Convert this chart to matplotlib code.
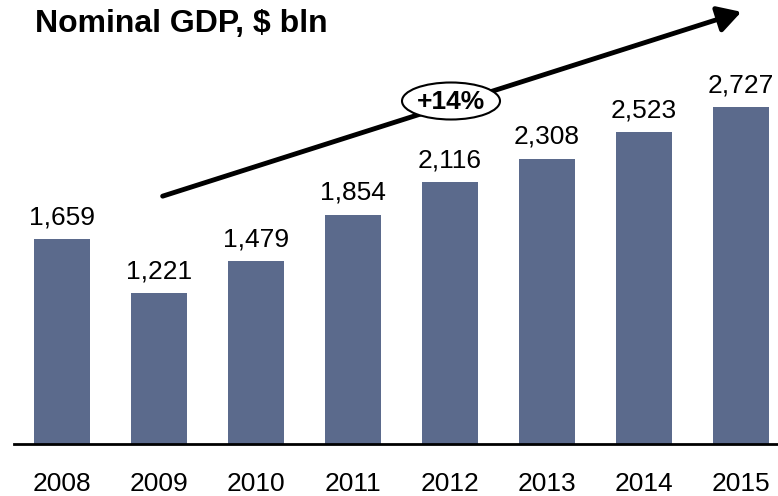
import matplotlib
matplotlib.use("Agg")
import matplotlib.pyplot as plt
from matplotlib.patches import Ellipse

years = ["2008", "2009", "2010", "2011", "2012", "2013", "2014", "2015"]
gdp = [1659, 1221, 1479, 1854, 2116, 2308, 2523, 2727]
growth_label = "+14%"
title = "Nominal GDP, $ bln"

plt.rcParams['font.family'] = ['Liberation Sans', 'DejaVu Sans']

W, H = 778, 496
fig = plt.figure(figsize=(W / 100, H / 100), dpi=100)
ax = fig.add_axes([14 / W, (H - 444) / H, (W - 14) / W, 444 / H])

x = list(range(len(years)))
ax.bar(x, gdp, width=0.58, color="#5b6a8c", zorder=2)
for xi, v in zip(x, gdp):
    ax.text(xi, v + 80, f"{v:,}", ha="center", va="bottom", fontsize=19, color="black")

ax.set_xlim(-0.495, 7.38)
ax.set_ylim(0, 3592)
for s in ["top", "right", "left"]:
    ax.spines[s].set_visible(False)
ax.spines["bottom"].set_linewidth(2)
ax.spines["bottom"].set_color("black")
ax.set_yticks([])
ax.set_xticks(x)
ax.set_xticklabels(years, fontsize=19)
ax.tick_params(axis="x", length=0, pad=20)

def fp(px, py):
    return (px / W, 1 - py / H)

fig.patches.append(matplotlib.patches.FancyArrowPatch(
    fp(160, 197), fp(744, 11), transform=fig.transFigure,
    arrowstyle="-|>,head_length=14,head_width=8", mutation_scale=1,
    lw=3.5, color="black", zorder=5))

ell = Ellipse(fp(451, 101), 98 / W, 37 / H, transform=fig.transFigure,
              facecolor="white", edgecolor="black", lw=1.5, zorder=6)
fig.patches.append(ell)
fig.text(*fp(451, 102), growth_label, ha="center", va="center",
         fontsize=19, fontweight="bold", zorder=7)

fig.text(*fp(35, 24), title, ha="left", va="center", fontsize=23, fontweight="bold")

fig.savefig("out.png", dpi=100)
